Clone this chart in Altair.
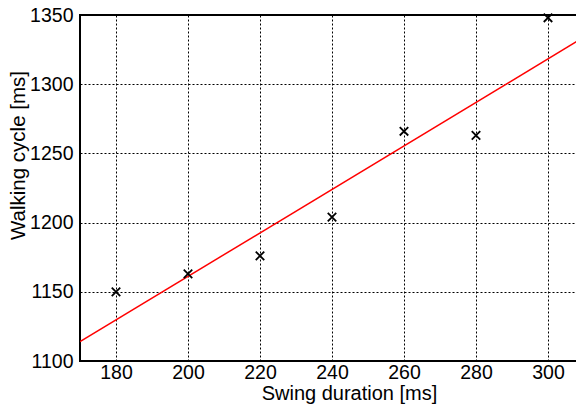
import altair as alt
import pandas as pd

swing = [180, 200, 220, 240, 260, 280, 300]
cycle = [1150, 1163, 1176, 1204, 1266, 1263, 1348]
fit_x = [170, 310]
fit_y = [1114, 1334]
x_ticks = [180, 200, 220, 240, 260, 280, 300]
y_ticks = [1100, 1150, 1200, 1250, 1300, 1350]

pts = pd.DataFrame({"x": swing, "y": cycle})
fit = pd.DataFrame({"x": fit_x, "y": fit_y})

FONT = "Liberation Sans"

xs = alt.Scale(domain=[170, 310], nice=False, zero=False)
ys = alt.Scale(domain=[1100, 1350], nice=False, zero=False)

x_axis = alt.Axis(values=x_ticks, format="d", title="Swing duration [ms]", grid=True,
                  gridColor="black", gridDash=[2, 2], gridWidth=1, gridOpacity=1,
                  domain=False, ticks=False, labelFont=FONT, labelFontSize=19.5,
                  labelColor="black", labelPadding=2, titleFont=FONT, titleFontSize=20,
                  titleFontWeight="normal", titleColor="black",
                  titleX=269, titleY=38.5, titleBaseline="alphabetic")
y_axis = alt.Axis(values=y_ticks, format="d", title="Walking cycle [ms]", grid=True,
                  gridColor="black", gridDash=[2, 2], gridWidth=1, gridOpacity=1,
                  domain=False, ticks=False, labelFont=FONT, labelFontSize=19.5,
                  labelColor="black", labelPadding=7, titleFont=FONT, titleFontSize=20.5,
                  titleFontWeight="normal", titleColor="black",
                  titleX=-62, titleY=140, titleAngle=-90, titleBaseline="middle",
                  titleAlign="center")

line = alt.Chart(fit).mark_line(color="red", strokeWidth=1.5, clip=True).encode(
    x=alt.X("x:Q", scale=xs, axis=x_axis),
    y=alt.Y("y:Q", scale=ys, axis=y_axis),
)
marks = alt.Chart(pts).mark_point(
    shape="M-1,-1L1,1M1,-1L-1,1", size=72, stroke="black", strokeWidth=1.8,
    filled=False, opacity=1,
).encode(x=alt.X("x:Q", scale=xs), y=alt.Y("y:Q", scale=ys))

chart = (line + marks).properties(
    width=504, height=346,
    padding={"left": 72, "top": 7, "right": -8, "bottom": 43},
    autosize=alt.AutoSizeParams(type="none"),
    background="white",
).configure_view(stroke="black", strokeWidth=2)

chart.save("out.html", embed_options={"renderer": "svg", "actions": False})
